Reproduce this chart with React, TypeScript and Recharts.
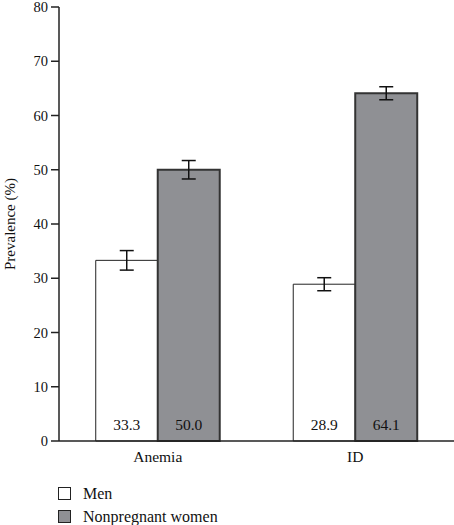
import { BarChart, Bar, XAxis, YAxis, ErrorBar, LabelList } from 'recharts'

const categories = ['Anemia', 'ID']
const menValues = [33.3, 28.9]
const menErrors = [1.8, 1.2]
const womenValues = [50.0, 64.1]
const womenErrors = [1.7, 1.2]
const yTicks = [0, 10, 20, 30, 40, 50, 60, 70, 80]
const seriesNames = ['Men', 'Nonpregnant women']
const seriesColors = ['#ffffff', '#8f9094']

const data = categories.map((c, i) => ({
    name: c,
    men: menValues[i],
    menErr: menErrors[i],
    women: womenValues[i],
    womenErr: womenErrors[i],
}))

const FONT = '"Liberation Serif", "DejaVu Serif", serif'

export default function App() {
    return (
        <div style={{ position: 'absolute', left: 0, top: 0, width: 454, height: 525, background: '#fff', fontFamily: FONT }}>
            <BarChart
                width={454}
                height={525}
                data={data}
                margin={{ top: 7, right: 0, left: 0, bottom: 54 }}
                barGap={0}
                barCategoryGap="18.6%"
            >
                <XAxis
                    dataKey="name"
                    height={30}
                    tickLine={false}
                    axisLine={{ stroke: '#222', strokeWidth: 1.5 }}
                    tick={{ fill: '#111', fontSize: 15.5, fontFamily: FONT }}
                    tickMargin={4}
                />
                <YAxis
                    width={59}
                    domain={[0, 80]}
                    ticks={yTicks}
                    interval={0}
                    axisLine={{ stroke: '#222', strokeWidth: 1.5 }}
                    tickLine={{ stroke: '#222', strokeWidth: 1.5 }}
                    tickSize={8}
                    tickMargin={3}
                    tick={{ fill: '#111', fontSize: 14.5, fontFamily: FONT }}
                    label={{ value: 'Prevalence (%)', angle: -90, position: 'insideLeft', offset: 10, style: { textAnchor: 'middle', fill: '#111', fontSize: 15, fontFamily: FONT } }}
                />
                <Bar dataKey="men" fill={seriesColors[0]} stroke="#222" strokeWidth={1} isAnimationActive={false}>
                    <ErrorBar dataKey="menErr" width={7} stroke="#111" strokeWidth={1.5} />
                    <LabelList dataKey="men" position="insideBottom" offset={11} formatter={(v: any) => Number(v).toFixed(1)} style={{ fill: '#111', fontSize: 15.5, fontFamily: FONT }} />
                </Bar>
                <Bar dataKey="women" fill={seriesColors[1]} stroke="#333" strokeWidth={2} isAnimationActive={false}>
                    <ErrorBar dataKey="womenErr" width={7} stroke="#111" strokeWidth={1.5} />
                    <LabelList dataKey="women" position="insideBottom" offset={11} formatter={(v: any) => Number(v).toFixed(1)} style={{ fill: '#111', fontSize: 15.5, fontFamily: FONT }} />
                </Bar>
            </BarChart>
            <div style={{ position: 'absolute', left: 58, top: 482 }}>
                {seriesNames.map((n, i) => (
                    <div key={n} style={{ display: 'flex', alignItems: 'center', height: 23, fontSize: 16, color: '#111' }}>
                        <span style={{ display: 'inline-block', width: 11, height: 11, background: seriesColors[i], border: '1.5px solid #222', marginRight: 12 }} />
                        {n}
                    </div>
                ))}
            </div>
        </div>
    )
}
